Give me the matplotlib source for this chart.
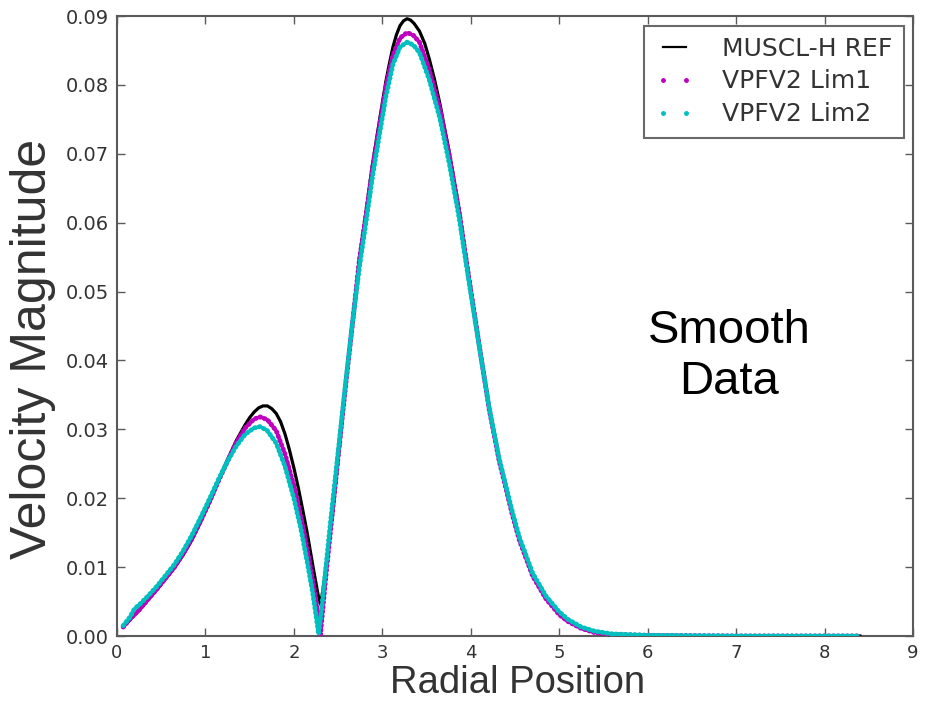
import matplotlib
matplotlib.use("Agg")
import matplotlib.pyplot as plt
from matplotlib.lines import Line2D

# ---- data ----
ref_x = [0.07, 0.15, 0.25, 0.35, 0.45, 0.55, 0.65, 0.75, 0.85, 0.95, 1.05, 1.15, 1.25, 1.35,
         1.45, 1.50, 1.55, 1.60, 1.65, 1.70, 1.75, 1.80, 1.85, 1.90, 1.95, 2.00, 2.05, 2.10,
         2.15, 2.22, 2.27, 2.30, 2.33, 2.38, 2.44, 2.52, 2.59, 2.67, 2.74, 2.82, 2.89, 2.97,
         3.04, 3.08, 3.12, 3.16, 3.20, 3.24, 3.28, 3.32, 3.36, 3.42, 3.48, 3.53, 3.59, 3.65,
         3.76, 3.87, 3.97, 4.10, 4.21, 4.32, 4.47, 4.55, 4.70, 4.85, 5.00, 5.10, 5.25, 5.40,
         5.60, 6.00, 7.00, 8.40]
ref_y = [0.0013, 0.0024, 0.0037, 0.0052, 0.0067, 0.0083, 0.0099, 0.0118, 0.0140, 0.0167,
         0.0195, 0.0226, 0.0256, 0.0284, 0.0307, 0.0317, 0.0325, 0.0331, 0.0334, 0.0334,
         0.0330, 0.0323, 0.0311, 0.0293, 0.0270, 0.0244, 0.0215, 0.0183, 0.0150, 0.0098,
         0.0062, 0.0046, 0.0068, 0.0120, 0.0180, 0.0280, 0.0372, 0.0465, 0.0548, 0.0620,
         0.0686, 0.0750, 0.0805, 0.0831, 0.0855, 0.0873, 0.0886, 0.0893, 0.0896, 0.0894,
         0.0889, 0.0878, 0.0860, 0.0838, 0.0808, 0.0773, 0.0700, 0.0618, 0.0530, 0.0420,
         0.0330, 0.0257, 0.0178, 0.0140, 0.0088, 0.0055, 0.0032, 0.0022, 0.0011, 0.0006,
         0.0003, 0.0001, 0.0000, 0.0000]

lim1_x = [0.07, 0.15, 0.25, 0.35, 0.45, 0.55, 0.65, 0.75, 0.85, 0.95, 1.05, 1.15, 1.25, 1.35,
          1.45, 1.55, 1.62, 1.70, 1.80, 1.90, 2.00, 2.10, 2.18, 2.24, 2.28, 2.30, 2.32, 2.36,
          2.42, 2.50, 2.59, 2.67, 2.74, 2.82, 2.89, 2.97, 3.04, 3.12, 3.20, 3.28, 3.35, 3.42,
          3.53, 3.65, 3.76, 3.87, 3.97, 4.10, 4.21, 4.32, 4.47, 4.55, 4.70, 4.85, 5.00, 5.10,
          5.25, 5.40, 5.60, 6.00, 7.00, 8.00, 8.40]
lim1_y = [0.0013, 0.0025, 0.0038, 0.0053, 0.0068, 0.0084, 0.0100, 0.0120, 0.0142, 0.0168,
          0.0196, 0.0226, 0.0254, 0.0281, 0.0302, 0.0315, 0.0318, 0.0314, 0.0298, 0.0264,
          0.0218, 0.0160, 0.0105, 0.0060, 0.0025, 0.0002, 0.0030, 0.0085, 0.0160, 0.0260,
          0.0370, 0.0462, 0.0545, 0.0615, 0.0680, 0.0742, 0.0797, 0.0843, 0.0868, 0.0876,
          0.0872, 0.0862, 0.0822, 0.0765, 0.0695, 0.0614, 0.0527, 0.0418, 0.0328, 0.0255,
          0.0176, 0.0139, 0.0087, 0.0054, 0.0031, 0.0021, 0.0011, 0.0005, 0.0002, 0.0001,
          0.0000, 0.0000, 0.0000]

lim2_x = [0.07, 0.15, 0.20, 0.25, 0.35, 0.45, 0.55, 0.65, 0.75, 0.85, 0.95, 1.05, 1.15, 1.25,
          1.35, 1.45, 1.55, 1.62, 1.70, 1.80, 1.90, 2.00, 2.08, 2.15, 2.21, 2.25, 2.28, 2.31,
          2.35, 2.41, 2.49, 2.58, 2.66, 2.74, 2.82, 2.89, 2.97, 3.04, 3.12, 3.20, 3.28, 3.35,
          3.42, 3.53, 3.65, 3.76, 3.87, 3.97, 4.10, 4.21, 4.32, 4.47, 4.55, 4.70, 4.85, 5.00,
          5.10, 5.25, 5.40, 5.60, 6.00, 7.00, 7.80, 8.40]
lim2_y = [0.0015, 0.0028, 0.0040, 0.0045, 0.0058, 0.0072, 0.0088, 0.0104, 0.0124, 0.0147,
          0.0173, 0.0200, 0.0228, 0.0254, 0.0276, 0.0293, 0.0302, 0.0304, 0.0298, 0.0280,
          0.0246, 0.0200, 0.0155, 0.0108, 0.0065, 0.0030, 0.0003, 0.0035, 0.0085, 0.0160,
          0.0255, 0.0362, 0.0452, 0.0535, 0.0605, 0.0668, 0.0730, 0.0783, 0.0830, 0.0855,
          0.0862, 0.0858, 0.0847, 0.0808, 0.0752, 0.0684, 0.0606, 0.0522, 0.0417, 0.0330,
          0.0258, 0.0180, 0.0143, 0.0091, 0.0058, 0.0035, 0.0024, 0.0013, 0.0007, 0.0003,
          0.0001, 0.0000, 0.0000, 0.0000]

series_labels = ["MUSCL-H REF", "VPFV2 Lim1", "VPFV2 Lim2"]
x_ticks = [0, 1, 2, 3, 4, 5, 6, 7, 8, 9]
y_ticks = [0.00, 0.01, 0.02, 0.03, 0.04, 0.05, 0.06, 0.07, 0.08, 0.09]
y_tick_labels = ["0.00", "0.01", "0.02", "0.03", "0.04", "0.05", "0.06", "0.07", "0.08", "0.09"]

# ---- figure ----
W, H = 931, 701
fig = plt.figure(figsize=(W / 100, H / 100), dpi=100)
ax = fig.add_axes([117 / W, 65 / H, 796 / W, 620 / H])

dot_style = dict(linestyle=(0, (0.2, 0.75)), dash_capstyle="round", linewidth=3.5)
ax.plot(ref_x, ref_y, color="k", lw=2.3, zorder=3, solid_joinstyle="round")
ax.plot(lim1_x, lim1_y, color="m", zorder=4, **dot_style)
ax.plot(lim2_x, lim2_y, color="c", zorder=5, **dot_style)

ax.set_xlim(0, 9)
ax.set_ylim(0, 0.09)
ax.set_xticks(x_ticks)
ax.set_yticks(y_ticks)
ax.set_yticklabels(y_tick_labels)

spine_col = "#5a5a5a"
for s in ax.spines.values():
    s.set_color(spine_col)
    s.set_linewidth(1.5)
ax.tick_params(direction="in", top=True, right=True, length=6, width=1.0,
               color=spine_col, labelcolor="#333333", pad=6)
for lab in ax.get_xticklabels():
    lab.set_fontsize(13)
    lab.set_fontfamily("DejaVu Sans")
for lab in ax.get_yticklabels():
    lab.set_fontsize(14)
    lab.set_fontfamily("DejaVu Sans")

ax.set_xlabel("Radial Position", fontsize=27.5, family="Liberation Sans",
              color="#333333", va="center")
ax.xaxis.set_label_coords(0.503, -0.076)
ax.set_ylabel("Velocity Magnitude", fontsize=36, family="Liberation Sans",
              color="#333333", va="center")
ax.yaxis.set_label_coords(-0.105, 0.463)

ax.text(6.92, 0.0406, "Smooth\nData", fontsize=34, family="Liberation Sans",
        color="black", ha="center", va="center", linespacing=1.2)

handles = [
    Line2D([], [], color="k", lw=1.6),
    Line2D([], [], color="m", marker=".", ls="none", ms=5),
    Line2D([], [], color="c", marker=".", ls="none", ms=5),
]
leg = ax.legend(handles, series_labels, loc="upper right", numpoints=2,
                prop={"family": "DejaVu Sans", "size": 18}, frameon=True,
                fancybox=False, handlelength=1.5, handletextpad=1.15,
                labelspacing=0.35, borderpad=0.45, borderaxespad=0.38)
leg.get_frame().set_edgecolor("#444444")
leg.get_frame().set_linewidth(1.5)
for t in leg.get_texts():
    t.set_color("#333333")

fig.savefig("out.png", dpi=100)
